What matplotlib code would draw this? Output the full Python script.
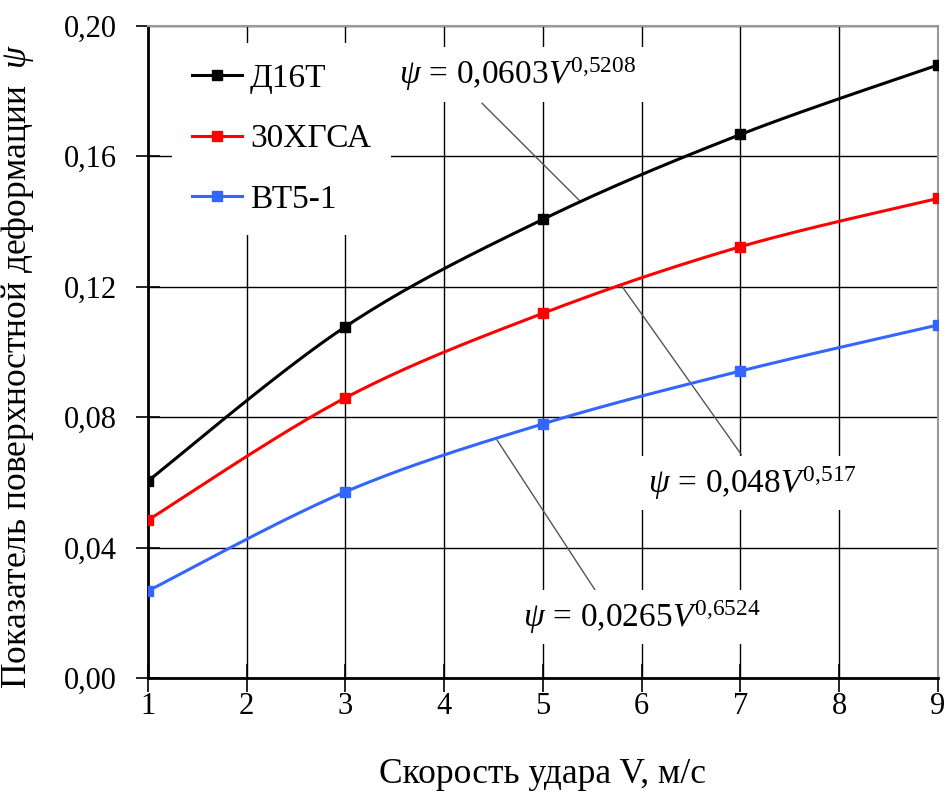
import matplotlib
matplotlib.use('Agg')
import matplotlib.pyplot as plt
import numpy as np

# Данные с графика
v = [1, 3, 5, 7, 9]
d16t = [0.0604, 0.1077, 0.1406, 0.1666, 0.1879]
hgsa = [0.0484, 0.0859, 0.1118, 0.1322, 0.1470]
vt51 = [0.0267, 0.0571, 0.0779, 0.0941, 0.1082]
names = ['Д16Т', '30ХГСА', 'ВТ5-1']
colors = ['#000000', '#ff0000', '#3366ff']
formulas = [r'$ψ\,=\,0{,}0603V^{0{,}5208}$',
            r'$ψ\,=\,0{,}048V^{0{,}517}$',
            r'$ψ\,=\,0{,}0265V^{0{,}6524}$']
xticks = [1, 2, 3, 4, 5, 6, 7, 8, 9]
yticks = [0.00, 0.04, 0.08, 0.12, 0.16, 0.20]

plt.rcParams['font.family'] = ['Liberation Serif', 'DejaVu Serif']
plt.rcParams['mathtext.fontset'] = 'custom'
plt.rcParams['mathtext.rm'] = 'Liberation Serif'
plt.rcParams['mathtext.it'] = 'Liberation Serif:italic'


def smooth(x, y, n=40):
    # сглаживание как в Excel (кубические Безье, Catmull-Rom)
    p = np.column_stack([x, y]).astype(float)
    p = np.vstack([p[0], p, p[-1]])
    out = []
    t = np.linspace(0, 1, n)[:, None]
    for i in range(1, len(p) - 2):
        p0, p1 = p[i], p[i + 1]
        c1 = p0 + (p[i + 1] - p[i - 1]) / 6
        c2 = p1 - (p[i + 2] - p[i]) / 6
        seg = ((1 - t) ** 3) * p0 + 3 * ((1 - t) ** 2) * t * c1 + 3 * (1 - t) * t ** 2 * c2 + t ** 3 * p1
        out.append(seg)
    s = np.vstack(out)
    return s[:, 0], s[:, 1]


fig = plt.figure(figsize=(9.46, 7.92), dpi=100)
ax = fig.add_axes([0.1564, 0.1439, 0.8351, 0.8239])

for ys, name, c in zip([d16t, hgsa, vt51], names, colors):
    sx, sy = smooth(v, ys)
    ax.plot(sx, sy, color=c, lw=2.2, zorder=3)
    ax.plot(v, ys, ls='none', marker='s', ms=6.5, color=c, zorder=4)
    ax.plot([], [], color=c, lw=2.2, marker='s', ms=6.5, label=name)

ax.set_xlim(1, 9)
ax.set_ylim(0, 0.20)
ax.set_xticks(xticks)
ax.set_yticks(yticks)
ax.set_yticklabels([('%.2f' % t).replace('.', ',') for t in yticks])
ax.grid(True, color='black', lw=1.0, zorder=1)
ax.set_axisbelow(True)

ax.tick_params(axis='both', direction='inout', labelsize=22, color='black', width=1.2)
ax.tick_params(axis='x', length=20, pad=0)
ax.tick_params(axis='y', length=17, pad=14)

for s in ['left', 'bottom']:
    ax.spines[s].set_linewidth(2.0)
    ax.spines[s].set_color('black')
for s in ['top', 'right']:
    ax.spines[s].set_linewidth(1.5)
    ax.spines[s].set_color('#999999')

ax.set_xlabel('Скорость удара V, м/с', fontsize=25.5)
ax.set_ylabel('Показатель поверхностной деформации  $ψ$', fontsize=25.5)
ax.xaxis.set_label_coords(0.5, -0.122)
ax.yaxis.set_label_coords(-0.142, 0.478)

leg = ax.legend(loc='upper left', bbox_to_anchor=(0.009, 0.998), fontsize=24,
                frameon=True, facecolor='white', edgecolor='none', framealpha=1,
                fancybox=False, handlelength=1.5, handletextpad=0.25, labelspacing=0.9,
                borderpad=0.6)
leg.set_zorder(5)

# подписи с формулами и выносками
lead = [((4.382, 0.1762), (5.375, 0.1462)),
        ((5.797, 0.1202), (7.011, 0.0684)),
        ((4.534, 0.0730), (5.527, 0.0270))]
pos = [(4.742, 0.1850), (7.121, 0.0598), (6.003, 0.0187)]
for f, (tx, ty), (a, b) in zip(formulas, pos, lead):
    ax.annotate('', xy=a, xytext=b,
                arrowprops=dict(arrowstyle='-', color='#555555', lw=1.0,
                                shrinkA=0, shrinkB=0), zorder=2)
    ax.text(tx, ty, f, fontsize=24, ha='center', va='center', zorder=5,
            bbox=dict(boxstyle='square,pad=0.25', facecolor='white', edgecolor='none'))

fig.savefig('out.png', dpi=100)
